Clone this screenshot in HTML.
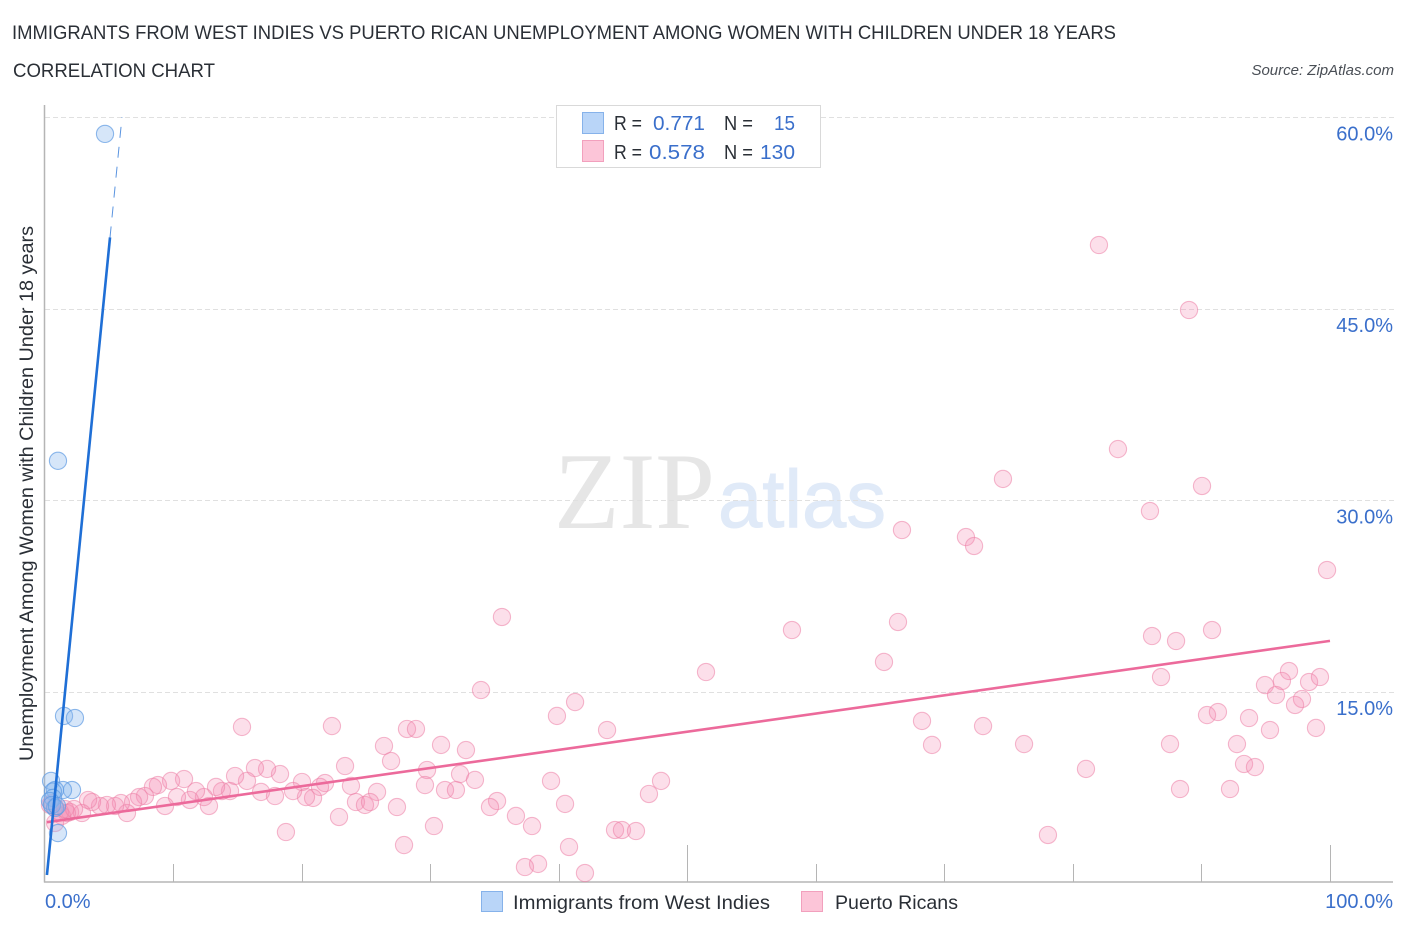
<!DOCTYPE html>
<html lang="en">
<head>
<meta charset="utf-8">
<title>Immigrants from West Indies vs Puerto Rican Unemployment Correlation Chart</title>
<style>
html,body{margin:0;padding:0;background:#fff;width:1406px;height:930px;overflow:hidden}
svg{display:block}
text{font-family:"Liberation Sans",sans-serif}
</style>
</head>
<body>
<svg id="chart" width="1406" height="930" viewBox="0 0 1406 930" xmlns="http://www.w3.org/2000/svg">
  <text x="12" y="39" font-size="19" fill="#2a2f36" textLength="1104" lengthAdjust="spacingAndGlyphs">IMMIGRANTS FROM WEST INDIES VS PUERTO RICAN UNEMPLOYMENT AMONG WOMEN WITH CHILDREN UNDER 18 YEARS</text>
  <text x="13" y="77" font-size="19" fill="#2a2f36" textLength="202" lengthAdjust="spacingAndGlyphs">CORRELATION CHART</text>
  <text x="1394" y="75" font-size="15" font-style="italic" fill="#4a4f56" text-anchor="end">Source: ZipAtlas.com</text>

  <g>
    <text x="554" y="528" style="font-family:'Liberation Serif',serif" font-size="109" fill="#e6e6e6" textLength="161" lengthAdjust="spacingAndGlyphs">ZIP</text>
    <text x="718" y="527" font-size="82" fill="#e0eaf8" stroke="#e0eaf8" stroke-width="1" textLength="168" lengthAdjust="spacingAndGlyphs">atlas</text>
  </g>

  <g id="grid"></g>
  <g id="axes"></g>
  <g id="pinkPoints"></g>
  <g id="bluePoints"></g>
  <g id="trends"></g>
  <g id="labels"></g>

  <text transform="translate(33,761) rotate(-90)" font-size="19" fill="#2a2f36" textLength="535" lengthAdjust="spacingAndGlyphs">Unemployment Among Women with Children Under 18 years</text>

  <g>
    <rect x="556.5" y="105.5" width="264" height="62" fill="#fff" stroke="#d9d9d9" stroke-width="1"/>
    <rect x="582.5" y="112.5" width="21" height="21" fill="#b9d5f8" stroke="#86b2ea"/>
    <rect x="582.5" y="140.5" width="21" height="21" fill="#fcc5d8" stroke="#f2a0bd"/>
    <text x="614" y="130" font-size="20" fill="#2a2f36" textLength="28" lengthAdjust="spacingAndGlyphs">R =</text>
    <text x="653" y="130" font-size="20.5" fill="#3a6fcb" textLength="52" lengthAdjust="spacingAndGlyphs">0.771</text>
    <text x="724" y="130" font-size="20" fill="#2a2f36" textLength="29" lengthAdjust="spacingAndGlyphs">N =</text>
    <text x="774" y="130" font-size="20.5" fill="#3a6fcb" textLength="21" lengthAdjust="spacingAndGlyphs">15</text>
    <text x="614" y="159" font-size="20" fill="#2a2f36" textLength="28" lengthAdjust="spacingAndGlyphs">R =</text>
    <text x="649" y="159" font-size="20.5" fill="#3a6fcb" textLength="56" lengthAdjust="spacingAndGlyphs">0.578</text>
    <text x="724" y="159" font-size="20" fill="#2a2f36" textLength="29" lengthAdjust="spacingAndGlyphs">N =</text>
    <text x="760" y="159" font-size="20.5" fill="#3a6fcb" textLength="35" lengthAdjust="spacingAndGlyphs">130</text>
  </g>

  <g>
    <rect x="481.5" y="891.5" width="21" height="20" fill="#b9d5f8" stroke="#86b2ea"/>
    <text x="513" y="909" font-size="19.5" fill="#2a2f36" textLength="257" lengthAdjust="spacingAndGlyphs">Immigrants from West Indies</text>
    <rect x="801.5" y="891.5" width="21" height="20" fill="#fcc5d8" stroke="#f2a0bd"/>
    <text x="835" y="909" font-size="19.5" fill="#2a2f36" textLength="123" lengthAdjust="spacingAndGlyphs">Puerto Ricans</text>
  </g>
</svg>
<script>
var yTickValues = [15, 30, 45, 60];
var yTickLabels = ["15.0%", "30.0%", "45.0%", "60.0%"];
var xTickValues = [10, 20, 30, 40, 50, 60, 70, 80, 90, 100];
var xMajorTicks = [50, 100];
var xEndLabels = ["0.0%", "100.0%"];

var blueX = [4.67, 1.01, 1.48, 2.33, 0.47, 2.10, 1.40, 0.78, 0.62, 0.62, 0.39, 0.78, 0.54, 0.93, 1.01];
var blueY = [58.7, 33.1, 13.12, 12.96, 8.03, 7.32, 7.32, 7.32, 7.2, 6.7, 6.46, 5.91, 6.15, 6.07, 3.95];

var pinkX = [86.15, 88.02, 90.82, 86.85, 96.81, 96.26, 94.94, 95.80, 98.37, 99.22, 97.82, 97.28, 90.43, 91.28, 93.70, 95.33, 98.91, 87.55, 92.76, 93.31, 94.16, 88.33, 92.22,
  82.02, 89.03, 83.50, 74.55, 90.04, 85.99, 66.69, 71.67, 72.30, 99.77, 35.56, 58.13, 66.38, 65.29, 51.44, 33.93, 41.25, 39.84, 43.74, 68.25, 73.0, 69.03, 76.19, 81.01, 78.05,
  22.33, 28.17, 28.87, 30.82, 32.76, 26.38, 26.93, 23.35, 29.73, 32.30, 33.46, 39.38, 47.94, 47.0, 29.57, 31.13, 31.98, 23.81, 21.79, 21.40, 20.0, 25.84, 24.20, 24.90, 25.29, 27.39, 35.18, 34.63, 40.47, 36.65, 37.90, 22.88, 30.27, 27.94, 40.78, 44.36, 44.90, 45.99, 38.37, 37.35, 42.02, 20.86, 20.31, 18.75,
  15.33, 18.29, 17.28, 16.34, 15.72, 14.79, 16.81, 17.90, 19.30, 14.40, 13.77, 13.31, 12.76, 12.37, 11.75, 11.28, 10.82, 10.27, 9.81, 9.34, 8.79, 8.40, 7.78, 7.32, 6.85, 6.38, 5.91, 5.45, 4.82, 4.28, 3.66, 3.35, 2.88, 1.95, 1.71, 1.32, 0.78, 0.54, 0.39, 0.78,
  1.17, 1.56, 2.26];
var pinkY = [19.38, 18.99, 19.85, 16.17, 16.64, 15.86, 15.54, 14.76, 15.78, 16.17, 14.45, 13.98, 13.19, 13.43, 12.96, 12.02, 12.18, 10.92, 10.92, 9.36, 9.12, 7.40, 7.40,
  50.0, 44.91, 34.02, 31.68, 31.13, 29.17, 27.68, 27.13, 26.43, 24.55, 20.87, 19.85, 20.48, 17.35, 16.56, 15.15, 14.21, 13.12, 12.02, 12.73, 12.33, 10.85, 10.92, 8.97, 3.80,
  12.33, 12.10, 12.10, 10.85, 10.45, 10.77, 9.59, 9.20, 8.89, 8.57, 8.11, 8.03, 8.03, 7.01, 7.71, 7.32, 7.32, 7.64, 7.87, 7.56, 7.95, 7.17, 6.38, 6.15, 6.38, 5.99, 6.46, 5.99, 6.23, 5.29, 4.50, 5.21, 4.50, 3.01, 2.86, 4.19, 4.19, 4.11, 1.53, 1.29, 0.82, 6.70, 6.77, 4.03,
  12.26, 8.57, 8.97, 9.04, 8.03, 8.42, 7.17, 6.85, 7.24, 7.24, 7.24, 7.56, 6.07, 6.77, 7.24, 6.54, 8.18, 6.77, 8.03, 6.07, 7.71, 7.56, 6.85, 6.77, 6.38, 5.52, 6.30, 6.07, 6.15, 6.07, 6.38, 6.54, 5.52, 5.60, 5.52, 5.29, 5.99, 6.30, 6.15, 4.74,
  5.60, 5.83, 5.83];

var blueTrendSolidX = [0.15, 5.06];
var blueTrendSolidY = [0.67, 50.6];
var blueTrendDashX = [5.06, 5.99];
var blueTrendDashY = [50.6, 60];
var pinkTrendX = [0.15, 100];
var pinkTrendY = [4.8, 19];

var NS = "http://www.w3.org/2000/svg";
function xScale(v) { return 45 + v * 12.85; }
function yScale(v) { return 883.5 - v * 12.77; }
function make(tag, parentId, attrs, text) {
  var el = document.createElementNS(NS, tag);
  for (var k in attrs) { el.setAttribute(k, attrs[k]); }
  if (text) { el.textContent = text; }
  document.getElementById(parentId).appendChild(el);
  return el;
}

yTickValues.forEach(function (v, i) {
  var y = Math.round(yScale(v)) + 0.5;
  var g = make("line", "grid", { x1: 45, x2: 1395, y1: y, y2: y, stroke: "#e0e0e0", "stroke-width": 1, "stroke-dasharray": "5 3" });
  
  
  var t = make("text", "labels", { x: 1393, y: yScale(v) + 23, "font-size": 20, fill: "#3a6fcb", "text-anchor": "end" }, yTickLabels[i]);
  
  
});

var yAxis = make("line", "axes", { x1: 44.5, x2: 44.5, y1: 105, y2: 882.5, stroke: "#b5b5b5", "stroke-width": 1.5 });


var xAxis = make("line", "axes", { x1: 44, x2: 1393, y1: 882, y2: 882, stroke: "#b5b5b5", "stroke-width": 1.5 });



xTickValues.forEach(function (v) {
  var x = Math.floor(xScale(v)) + 0.5;
  var top = xMajorTicks.indexOf(v) >= 0 ? 845 : 864;
  var t = make("line", "axes", { x1: x, x2: x, y1: top, y2: 882, stroke: "#b5b5b5", "stroke-width": 1 });
  
  
});

var xLabelLeft = make("text", "labels", { x: 45, y: 908, "font-size": 20, fill: "#3a6fcb" }, xEndLabels[0]);


var xLabelRight = make("text", "labels", { x: 1393, y: 908, "font-size": 20, fill: "#3a6fcb", "text-anchor": "end" }, xEndLabels[1]);



pinkX.forEach(function (v, i) {
  var c = make("circle", "pinkPoints", { cx: xScale(v), cy: yScale(pinkY[i]), r: 8.6, fill: "#f58db2", "fill-opacity": 0.28, stroke: "#ec7fa6", "stroke-opacity": 0.55, "stroke-width": 1.1 });
  
  
});
blueX.forEach(function (v, i) {
  var c = make("circle", "bluePoints", { cx: xScale(v), cy: yScale(blueY[i]), r: 8.6, fill: "#8ab8ef", "fill-opacity": 0.35, stroke: "#5f9be2", "stroke-opacity": 0.7, "stroke-width": 1.1 });
  
  
});

var pinkLine = make("line", "trends", { x1: xScale(pinkTrendX[0]), y1: yScale(pinkTrendY[0]), x2: xScale(pinkTrendX[1]), y2: yScale(pinkTrendY[1]), stroke: "#ec6a9b", "stroke-width": 2.6 });


var blueLine = make("line", "trends", { x1: xScale(blueTrendSolidX[0]), y1: yScale(blueTrendSolidY[0]), x2: xScale(blueTrendSolidX[1]), y2: yScale(blueTrendSolidY[1]), stroke: "#1f6fd6", "stroke-width": 2.6 });


var blueDash = make("line", "trends", { x1: xScale(blueTrendDashX[0]), y1: yScale(blueTrendDashY[0]), x2: xScale(blueTrendDashX[1]), y2: yScale(blueTrendDashY[1]), stroke: "#5a94e0", "stroke-width": 1, "stroke-dasharray": "11 9" });


</script>
</body>
</html>
